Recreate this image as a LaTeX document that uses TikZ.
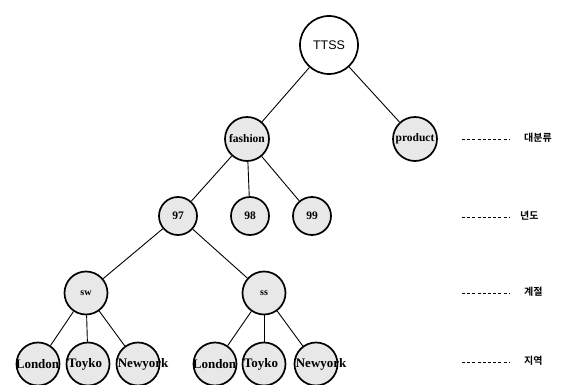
\documentclass[tikz,border=0pt]{standalone}
\usepackage{fontspec}
\setmainfont{Liberation Serif}
\newfontfamily\headfont{Liberation Sans}
\newfontfamily\kofont{Noto Sans CJK KR}[BoldFont={* Bold}]
\begin{document}
\begin{tikzpicture}[x=1pt,y=-1pt,
  treenode/.style={circle,draw=black,line width=1.7pt,fill=gray!18,inner sep=0pt},
  rootnode/.style={circle,draw=black,line width=1.7pt,fill=white,inner sep=0pt,minimum size=58pt,font=\headfont\fontsize{12.5}{13}\selectfont},
  midnode/.style={treenode,minimum size=44pt},
  yearnode/.style={treenode,minimum size=38pt},
  leafnode/.style={treenode,minimum size=43pt},
  ntext/.style={font=\bfseries\fontsize{11.5}{12}\selectfont,inner sep=0pt},
  stext/.style={font=\bfseries\fontsize{10}{11}\selectfont,inner sep=0pt},
  ltext/.style={font=\bfseries\fontsize{13}{14}\selectfont,inner sep=0pt},
  edge/.style={line width=0.9pt},
  lvline/.style={line width=0.9pt,dash pattern=on 3pt off 2.2pt},
  lvtext/.style={font=\kofont\bfseries\fontsize{10}{11}\selectfont,anchor=west,inner sep=0pt}]
\useasboundingbox (0,0) rectangle (568,385);
% nodes
\node[rootnode] (ttss) at (329,45) {TTSS};
\node[midnode] (fashion) at (247,139) {};
\node[ntext] at (fashion) {fashion};
\node[midnode] (product) at (415,139) {};
\node[ntext] at (product) {product};
\node[yearnode] (y97) at (178,216) {};
\node[ntext] at (y97) {97};
\node[yearnode] (y98) at (250,216) {};
\node[ntext] at (y98) {98};
\node[yearnode] (y99) at (312,216) {};
\node[ntext] at (y99) {99};
\node[leafnode] (sw) at (86,293) {};
\node[stext] at (sw) {sw};
\node[leafnode] (ss) at (264,293) {};
\node[stext] at (ss) {ss};
\node[leafnode] (l1) at (38,364) {};
\node[leafnode] (t1) at (88,364) {};
\node[leafnode] (n1) at (138,364) {};
\node[leafnode] (l2) at (215,364) {};
\node[leafnode] (t2) at (264,364) {};
\node[leafnode] (n2) at (316,364) {};
\foreach \c in {l1,l2}{\node[ltext,anchor=west] at ([xshift=0pt]\c.west) {London};}
\foreach \c in {t1,t2}{\node[ltext,anchor=west] at ([xshift=2pt]\c.west) {Toyko};}
\foreach \c in {n1,n2}{\node[ltext,anchor=west] at ([xshift=2pt]\c.west) {Newyork};}
% edges
\draw[edge] (ttss) -- (fashion);
\draw[edge] (ttss) -- (product);
\draw[edge] (fashion) -- (y97);
\draw[edge] (fashion) -- (y98);
\draw[edge] (fashion) -- (y99);
\draw[edge] (y97) -- (sw);
\draw[edge] (y97) -- (ss);
\draw[edge] (sw) -- (l1);
\draw[edge] (sw) -- (t1);
\draw[edge] (sw) -- (n1);
\draw[edge] (ss) -- (l2);
\draw[edge] (ss) -- (t2);
\draw[edge] (ss) -- (n2);
% level legend
\coordinate (a1) at (462,139); \coordinate (b1) at (510,139);
\coordinate (a2) at (462,217); \coordinate (b2) at (510,217);
\coordinate (a3) at (462,293); \coordinate (b3) at (510,293);
\coordinate (a4) at (462,362); \coordinate (b4) at (510,362);
\draw[lvline] (a1) -- (b1);
\draw[lvline] (a2) -- (b2);
\draw[lvline] (a3) -- (b3);
\draw[lvline] (a4) -- (b4);
\node[lvtext] (k1) at (524,138) {대분류};
\node[lvtext] (k2) at (520,216) {년도};
\node[lvtext] (k3) at (524,292) {계절};
\node[lvtext] (k4) at (524,361) {지역};
\end{tikzpicture}
\end{document}
